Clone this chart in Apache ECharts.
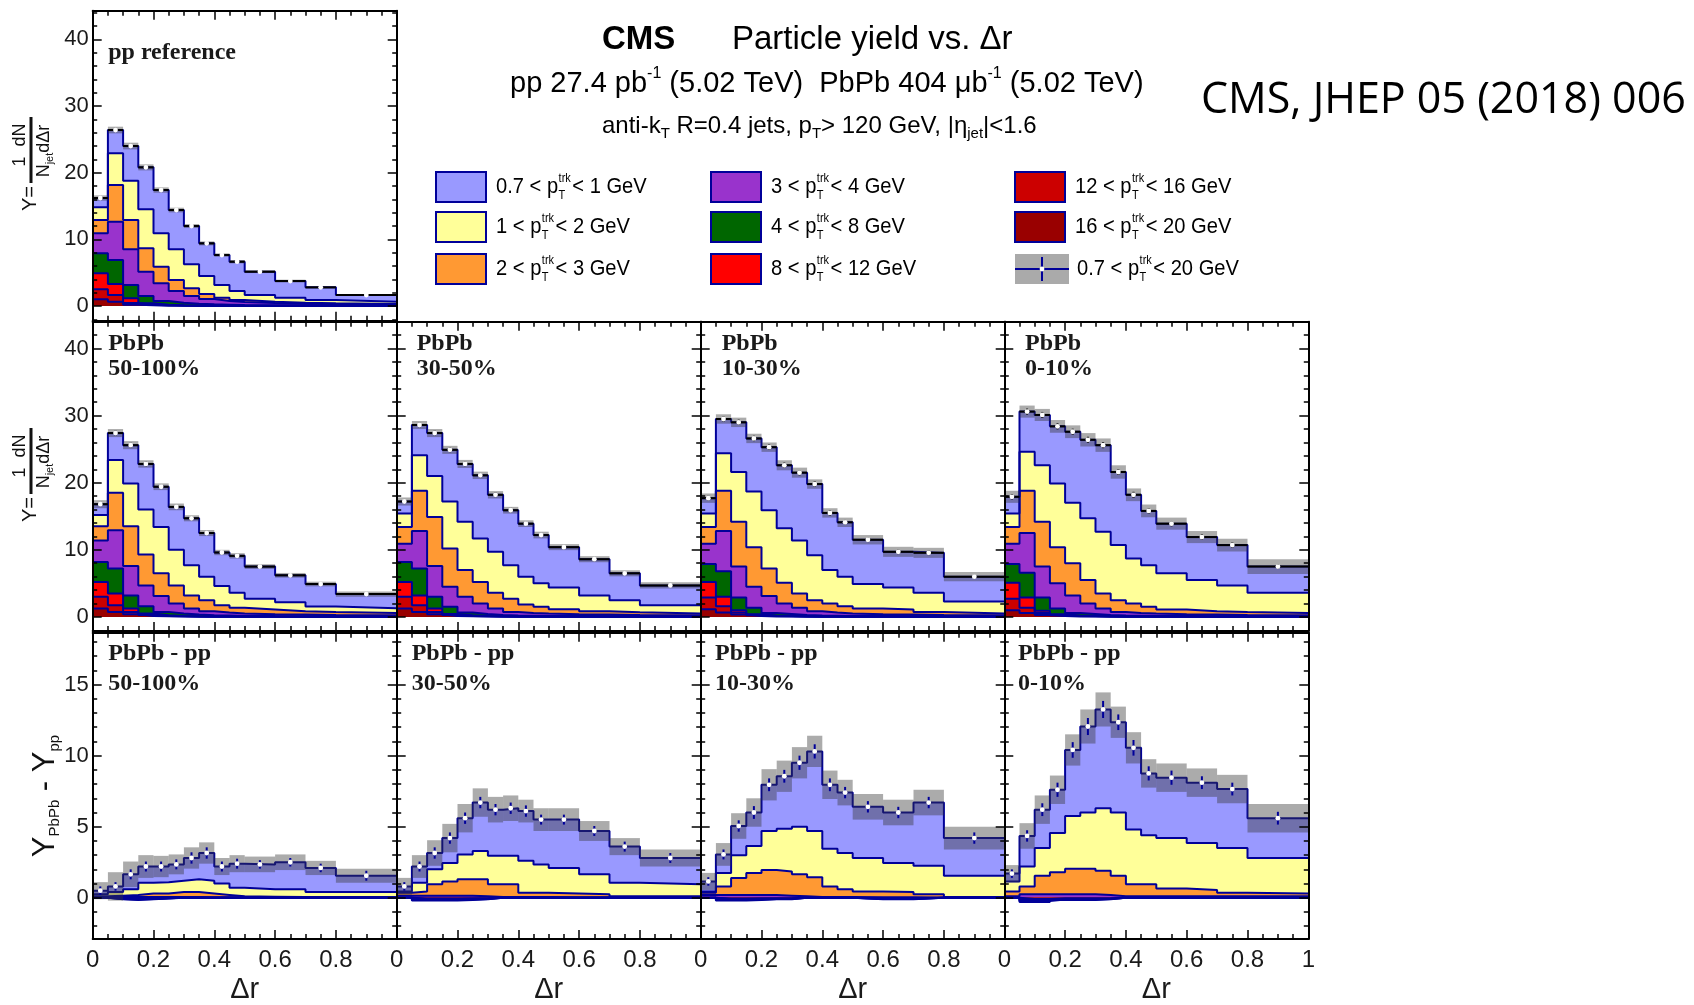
<!DOCTYPE html>
<html>
<head>
<meta charset="utf-8">
<title>Particle yield vs. Δr</title>
<script src="https://cdn.jsdelivr.net/npm/echarts@6.0.0/dist/echarts.min.js"></script>
<style>
  html, body { margin: 0; padding: 0; background: #fff; }
  #chart { width: 1694px; height: 1005px; }
</style>
</head>
<body>
<div id="chart"></div>
<script>
// Δr bin edges (14 bins)
const drEdges = [0, 0.05, 0.1, 0.15, 0.2, 0.25, 0.3, 0.35, 0.4, 0.45, 0.5, 0.6, 0.7, 0.8, 1.0];

// track pT classes, lowest first (legend + stack order top -> bottom)
const trkLow = ['0.7', '1', '2', '3', '4', '8', '12', '16'];
const trkHigh = ['1', '2', '3', '4', '8', '12', '16', '20'];
const trkColors = ['#9999ff', '#ffff99', '#ff9933', '#9933cc', '#006600', '#ff0000', '#cc0000', '#990000'];

// ---- pp reference ----
const pp_07 = [1.4, 3.5, 5.2, 6.3, 6.5, 5.9, 5.75, 4.9, 4.5, 4.4, 3.5, 2.5, 1.9, 1.0];
const pp_1  = [1.9, 4.75, 5.9, 5.85, 5.0, 4.6, 3.6, 2.7, 1.9, 1.35, 1.0, 0.75, 0.5, 0.35];
const pp_2  = [2.0, 5.5, 4.4, 3.5, 2.5, 1.65, 1.15, 0.75, 0.5, 0.3, 0.2, 0.15, 0.1, 0.05];
const pp_3  = [3.0, 5.75, 5.35, 3.65, 2.65, 1.75, 1.15, 0.8, 0.55, 0.45, 0.33, 0.25, 0.22, 0.19];
const pp_4  = [3.0, 3.6, 2.0, 1.1, 0.55, 0.38, 0.27, 0.18, 0.16, 0.11, 0.08, 0.07, 0.05, 0.03];
const pp_8  = [2.4, 1.65, 0.7, 0.2, 0.1, 0.06, 0.04, 0.03, 0.02, 0.02, 0.02, 0.01, 0.01, 0.01];
const pp_12 = [1.5, 1.0, 0.25, 0.1, 0.05, 0.03, 0.02, 0.02, 0.01, 0.01, 0.01, 0.01, 0.01, 0.01];
const pp_16 = [1.0, 0.65, 0.2, 0.1, 0.05, 0.03, 0.02, 0.02, 0.01, 0.01, 0.01, 0.01, 0.01, 0.01];
const pp_sys  = [0.4, 0.5, 0.5, 0.45, 0.4, 0.35, 0.3, 0.3, 0.25, 0.25, 0.2, 0.2, 0.15, 0.15];
const pp_stat = [0.15, 0.2, 0.2, 0.2, 0.15, 0.15, 0.15, 0.15, 0.1, 0.1, 0.1, 0.1, 0.1, 0.1];

// ---- PbPb 50-100% ----
const c50_07 = [1.6, 4.0, 5.7, 6.8, 6.0, 6.4, 7.0, 6.5, 5.0, 5.5, 4.8, 4.0, 3.35, 2.1];
const c50_1  = [1.7, 4.9, 6.4, 6.7, 6.9, 5.3, 4.5, 3.5, 2.85, 2.25, 1.6, 1.35, 0.8, 0.7];
const c50_2  = [2.1, 5.6, 5.9, 4.6, 3.4, 2.7, 1.95, 1.65, 1.1, 0.85, 0.7, 0.5, 0.45, 0.35];
const c50_3  = [3.2, 5.7, 4.4, 3.1, 2.35, 1.5, 0.9, 0.6, 0.45, 0.35, 0.28, 0.25, 0.22, 0.18];
const c50_4  = [3.0, 3.7, 1.95, 1.1, 0.5, 0.35, 0.25, 0.18, 0.15, 0.11, 0.09, 0.07, 0.05, 0.04];
const c50_8  = [2.2, 1.75, 0.5, 0.2, 0.1, 0.05, 0.04, 0.03, 0.02, 0.02, 0.01, 0.01, 0.01, 0.01];
const c50_12 = [1.75, 1.0, 0.35, 0.15, 0.07, 0.05, 0.03, 0.02, 0.01, 0.01, 0.01, 0.01, 0.01, 0.01];
const c50_16 = [1.25, 0.75, 0.4, 0.15, 0.08, 0.05, 0.03, 0.02, 0.02, 0.01, 0.01, 0.01, 0.01, 0.01];
const c50_sys  = [0.6, 0.6, 0.6, 0.55, 0.5, 0.5, 0.45, 0.45, 0.4, 0.4, 0.35, 0.35, 0.35, 0.4];
const c50_stat = [0.3, 0.35, 0.35, 0.35, 0.3, 0.3, 0.3, 0.3, 0.3, 0.3, 0.25, 0.25, 0.25, 0.2];

// ---- PbPb 30-50% ----
const c30_07 = [1.8, 4.5, 6.4, 7.7, 8.6, 9.4, 8.5, 8.2, 7.9, 7.2, 6.0, 5.4, 4.0, 2.95];
const c30_1  = [2.0, 5.3, 6.1, 7.0, 7.2, 6.5, 6.1, 5.0, 4.15, 3.5, 3.25, 2.35, 1.8, 1.25];
const c30_2  = [2.5, 6.0, 7.3, 5.7, 4.0, 3.2, 2.35, 1.95, 1.25, 1.0, 0.75, 0.5, 0.4, 0.25];
const c30_3  = [2.7, 5.6, 4.6, 3.0, 2.35, 1.55, 0.95, 0.53, 0.42, 0.36, 0.28, 0.25, 0.22, 0.18];
const c30_4  = [3.0, 4.0, 1.75, 1.05, 0.4, 0.3, 0.2, 0.15, 0.13, 0.1, 0.09, 0.07, 0.05, 0.04];
const c30_8  = [2.2, 1.45, 0.5, 0.15, 0.1, 0.05, 0.04, 0.03, 0.02, 0.02, 0.01, 0.01, 0.01, 0.01];
const c30_12 = [1.75, 1.0, 0.35, 0.15, 0.07, 0.05, 0.03, 0.02, 0.01, 0.01, 0.01, 0.01, 0.01, 0.01];
const c30_16 = [1.25, 0.75, 0.4, 0.15, 0.08, 0.05, 0.03, 0.02, 0.02, 0.01, 0.01, 0.01, 0.01, 0.01];
const c30_sys  = [0.6, 0.6, 0.6, 0.6, 0.6, 0.55, 0.55, 0.5, 0.5, 0.5, 0.45, 0.45, 0.45, 0.45];
const c30_stat = [0.3, 0.35, 0.35, 0.35, 0.35, 0.35, 0.35, 0.35, 0.3, 0.3, 0.3, 0.3, 0.25, 0.2];

// ---- PbPb 10-30% ----
const c10_07 = [2.3, 5.1, 7.4, 7.9, 9.4, 9.4, 10.1, 10.6, 8.5, 8.1, 6.6, 5.3, 5.95, 3.7];
const c10_1  = [2.0, 5.6, 7.4, 8.3, 8.7, 8.1, 7.9, 6.7, 5.0, 4.4, 3.65, 3.3, 2.85, 1.8];
const c10_2  = [2.5, 6.0, 6.7, 5.9, 4.1, 3.1, 2.15, 1.65, 1.35, 1.1, 0.85, 0.75, 0.45, 0.25];
const c10_3  = [3.0, 6.0, 4.6, 3.15, 2.5, 1.55, 1.05, 0.63, 0.47, 0.36, 0.28, 0.25, 0.22, 0.18];
const c10_4  = [2.7, 3.8, 1.9, 0.95, 0.38, 0.31, 0.2, 0.15, 0.13, 0.1, 0.09, 0.07, 0.05, 0.04];
const c10_8  = [2.3, 1.4, 0.35, 0.15, 0.09, 0.04, 0.04, 0.03, 0.02, 0.02, 0.01, 0.01, 0.01, 0.01];
const c10_12 = [1.75, 0.95, 0.3, 0.13, 0.06, 0.05, 0.03, 0.02, 0.01, 0.01, 0.01, 0.01, 0.01, 0.01];
const c10_16 = [1.15, 0.65, 0.35, 0.12, 0.07, 0.05, 0.03, 0.02, 0.02, 0.01, 0.01, 0.01, 0.01, 0.01];
const c10_sys  = [0.7, 0.7, 0.7, 0.7, 0.7, 0.75, 0.75, 0.7, 0.7, 0.7, 0.7, 0.75, 0.75, 0.7];
const c10_stat = [0.35, 0.4, 0.4, 0.4, 0.4, 0.4, 0.4, 0.4, 0.4, 0.35, 0.35, 0.35, 0.35, 0.3];

// ---- PbPb 0-10% ----
const c0_07 = [2.5, 6.0, 7.5, 8.5, 10.6, 11.7, 12.9, 10.9, 9.5, 8.1, 7.4, 6.4, 6.0, 3.9];
const c0_1  = [2.0, 5.8, 8.4, 9.5, 9.0, 9.2, 9.2, 8.2, 6.7, 6.2, 5.4, 4.65, 3.95, 3.0];
const c0_2  = [2.5, 6.3, 6.7, 5.4, 4.8, 3.5, 2.25, 1.75, 1.4, 1.0, 0.7, 0.5, 0.45, 0.35];
const c0_3  = [3.0, 5.9, 4.6, 3.75, 2.6, 1.55, 0.95, 0.53, 0.42, 0.36, 0.28, 0.25, 0.22, 0.18];
const c0_4  = [2.8, 3.7, 2.0, 0.85, 0.38, 0.31, 0.2, 0.15, 0.13, 0.1, 0.09, 0.07, 0.05, 0.04];
const c0_8  = [2.4, 1.55, 0.3, 0.15, 0.09, 0.04, 0.04, 0.03, 0.02, 0.02, 0.01, 0.01, 0.01, 0.01];
const c0_12 = [1.7, 0.75, 0.3, 0.13, 0.06, 0.05, 0.03, 0.02, 0.01, 0.01, 0.01, 0.01, 0.01, 0.01];
const c0_16 = [1.0, 0.6, 0.3, 0.12, 0.07, 0.05, 0.03, 0.02, 0.02, 0.01, 0.01, 0.01, 0.01, 0.01];
const c0_sys  = [0.9, 0.9, 0.9, 0.95, 0.95, 1.0, 1.0, 1.0, 0.95, 0.95, 0.9, 0.9, 0.95, 1.1];
const c0_stat = [0.4, 0.45, 0.45, 0.45, 0.45, 0.45, 0.45, 0.45, 0.45, 0.4, 0.4, 0.4, 0.4, 0.35];

// ---- PbPb - pp differences ----
const d50_07 = [0.25, 0.4, 1.05, 1.15, 1.1, 1.15, 1.5, 1.95, 1.2, 1.7, 1.75, 1.9, 1.7, 1.15];
const d50_1  = [0.15, 0.25, 0.4, 0.75, 0.8, 0.8, 0.9, 0.9, 0.8, 0.6, 0.52, 0.54, 0.35, 0.35];
const d50_2  = [0.05, 0.1, 0.15, 0.25, 0.25, 0.35, 0.35, 0.27, 0.17, 0.08, 0.06, 0.04, 0.03, 0.03];
const d50_3  = [0.05, 0.15, 0.2, 0.15, 0.1, 0.05, 0.05, 0.03, 0.03, 0.02, 0.02, 0.02, 0.02, 0.02];
const d50_4  = [0, -0.02, -0.03, -0.02, -0.01, 0, 0, 0, 0, 0, 0, 0, 0, 0];
const d50_8  = [0, -0.02, -0.04, -0.02, -0.01, 0, 0, 0, 0, 0, 0, 0, 0, 0];
const d50_12 = [0, -0.03, -0.04, -0.03, -0.01, 0, 0, 0, 0, 0, 0, 0, 0, 0];
const d50_16 = [0, -0.03, -0.04, -0.03, -0.02, 0, 0, 0, 0, 0, 0, 0, 0, 0];
const d50_sys  = [0.6, 1.0, 0.9, 0.8, 0.75, 0.7, 0.75, 0.75, 0.6, 0.6, 0.55, 0.55, 0.5, 0.5];
const d50_stat = [0.3, 0.3, 0.35, 0.35, 0.35, 0.35, 0.4, 0.4, 0.35, 0.35, 0.3, 0.3, 0.3, 0.35];

const d30_07 = [0.35, 1.15, 1.15, 1.75, 2.55, 3.4, 3.25, 3.35, 3.5, 3.15, 3.4, 3.05, 2.55, 1.85];
const d30_1  = [0.1, 0.6, 1.05, 1.3, 1.75, 2.0, 2.0, 2.0, 2.25, 2.0, 1.8, 1.4, 0.95, 0.85];
const d30_2  = [0.2, 0.3, 0.8, 1.0, 1.15, 1.2, 0.9, 0.9, 0.3, 0.3, 0.27, 0.22, 0.08, 0.08];
const d30_3  = [0.15, 0.35, 0.35, 0.35, 0.3, 0.2, 0.05, 0.05, 0.05, 0.05, 0.03, 0.03, 0.02, 0.02];
const d30_4  = [0, -0.05, -0.05, -0.05, -0.03, -0.02, 0, 0, 0, 0, 0, 0, 0, 0];
const d30_8  = [0, -0.05, -0.05, -0.05, -0.04, -0.03, 0, 0, 0, 0, 0, 0, 0, 0];
const d30_12 = [0, -0.05, -0.05, -0.05, -0.04, -0.02, 0, 0, 0, 0, 0, 0, 0, 0];
const d30_16 = [0, -0.05, -0.05, -0.05, -0.04, -0.03, 0, 0, 0, 0, 0, 0, 0, 0];
const d30_sys  = [0.6, 0.8, 0.9, 1.0, 1.0, 1.0, 0.9, 0.9, 0.8, 0.8, 0.8, 0.7, 0.6, 0.6];
const d30_stat = [0.3, 0.35, 0.4, 0.4, 0.4, 0.4, 0.4, 0.4, 0.4, 0.35, 0.35, 0.35, 0.35, 0.35];

const d10_07 = [0.7, 1.3, 2.05, 2.35, 3.25, 3.7, 4.5, 5.6, 4.5, 4.25, 3.6, 3.55, 4.45, 2.65];
const d10_1  = [0.1, 0.95, 1.6, 1.9, 2.75, 3.0, 3.35, 3.25, 2.65, 2.55, 2.35, 2.05, 2.0, 1.5];
const d10_2  = [0.15, 0.6, 1.2, 1.55, 1.75, 1.7, 1.55, 1.4, 0.75, 0.55, 0.42, 0.37, 0.23, 0.03];
const d10_3  = [0.2, 0.4, 0.4, 0.35, 0.3, 0.25, 0.1, 0.05, 0.05, 0.05, 0.13, 0.13, 0.02, 0.02];
const d10_4  = [0, -0.05, -0.05, -0.03, -0.02, -0.02, 0, 0, 0, 0, -0.02, -0.02, 0, 0];
const d10_8  = [0, -0.05, -0.05, -0.04, -0.02, -0.03, 0, 0, 0, 0, -0.02, -0.02, 0, 0];
const d10_12 = [0, -0.05, -0.05, -0.04, -0.03, -0.02, 0, 0, 0, 0, -0.03, -0.03, 0, 0];
const d10_16 = [0, -0.05, -0.05, -0.04, -0.03, -0.03, 0, 0, 0, 0, -0.03, -0.03, 0, 0];
const d10_sys  = [0.6, 0.8, 0.9, 1.0, 1.1, 1.1, 1.1, 1.1, 1.0, 0.9, 0.9, 0.9, 0.9, 0.8];
const d10_stat = [0.3, 0.35, 0.4, 0.45, 0.45, 0.45, 0.5, 0.5, 0.45, 0.4, 0.4, 0.4, 0.4, 0.4];

const d0_07 = [0.55, 2.15, 2.7, 3.05, 4.65, 6.05, 6.95, 6.35, 5.75, 4.35, 4.25, 4.25, 4.15, 2.8];
const d0_1  = [0.7, 1.4, 1.95, 2.75, 3.7, 3.95, 4.4, 4.45, 3.85, 3.45, 3.55, 3.3, 3.15, 2.5];
const d0_2  = [0.35, 0.55, 1.3, 1.55, 1.8, 1.8, 1.7, 1.45, 0.85, 0.85, 0.55, 0.45, 0.25, 0.2];
const d0_3  = [0.1, 0.55, 0.55, 0.4, 0.4, 0.4, 0.3, 0.1, 0.1, 0.1, 0.1, 0.1, 0.1, 0.1];
const d0_4  = [0, -0.07, -0.07, -0.03, -0.03, -0.03, -0.02, 0, 0, 0, 0, 0, 0, 0];
const d0_8  = [0, -0.07, -0.07, -0.04, -0.04, -0.04, -0.02, 0, 0, 0, 0, 0, 0, 0];
const d0_12 = [0, -0.08, -0.08, -0.04, -0.04, -0.04, -0.03, 0, 0, 0, 0, 0, 0, 0];
const d0_16 = [0, -0.08, -0.08, -0.04, -0.04, -0.04, -0.03, 0, 0, 0, 0, 0, 0, 0];
const d0_sys  = [0.6, 0.9, 1.0, 1.0, 1.1, 1.2, 1.2, 1.1, 1.1, 1.0, 1.0, 1.0, 1.0, 1.0];
const d0_stat = [0.3, 0.4, 0.45, 0.5, 0.55, 0.6, 0.6, 0.55, 0.55, 0.5, 0.5, 0.45, 0.45, 0.45];

// axis ticks
const yMajorYield = [0, 10, 20, 30, 40];
const yMinorYield = [-2, 2, 4, 6, 8, 12, 14, 16, 18, 22, 24, 26, 28, 32, 34, 36, 38, 42, 44];
const yMajorDiff = [0, 5, 10, 15];
const yMinorDiff = [-2, -1, 1, 2, 3, 4, 6, 7, 8, 9, 11, 12, 13, 14, 16, 17, 18];

// ---------------- layout ----------------
const colLeft = [92.7, 396.7, 700.7, 1004.3];
const colWidth = 304;
const rowTop = [10.7, 321.7, 632.7];
const rowHeight = [310, 309.3, 306.6];
const rowRange = [[-2.2, 44.3], [-2.1, 44.0], [-2.9, 18.65]];
const navy = '#000099';
const sans = 'Liberation Sans';
const serif = 'Liberation Serif';

const panels = [
  { row: 0, col: 0, text: ['pp reference'], comps: [pp_07, pp_1, pp_2, pp_3, pp_4, pp_8, pp_12, pp_16], sys: pp_sys, stat: pp_stat },
  { row: 1, col: 0, text: ['PbPb', '50-100%'], comps: [c50_07, c50_1, c50_2, c50_3, c50_4, c50_8, c50_12, c50_16], sys: c50_sys, stat: c50_stat },
  { row: 1, col: 1, text: ['PbPb', '30-50%'], comps: [c30_07, c30_1, c30_2, c30_3, c30_4, c30_8, c30_12, c30_16], sys: c30_sys, stat: c30_stat },
  { row: 1, col: 2, text: ['PbPb', '10-30%'], comps: [c10_07, c10_1, c10_2, c10_3, c10_4, c10_8, c10_12, c10_16], sys: c10_sys, stat: c10_stat },
  { row: 1, col: 3, text: ['PbPb', '0-10%'], comps: [c0_07, c0_1, c0_2, c0_3, c0_4, c0_8, c0_12, c0_16], sys: c0_sys, stat: c0_stat },
  { row: 2, col: 0, text: ['PbPb - pp', '50-100%'], comps: [d50_07, d50_1, d50_2, d50_3, d50_4, d50_8, d50_12, d50_16], sys: d50_sys, stat: d50_stat },
  { row: 2, col: 1, text: ['PbPb - pp', '30-50%'], comps: [d30_07, d30_1, d30_2, d30_3, d30_4, d30_8, d30_12, d30_16], sys: d30_sys, stat: d30_stat },
  { row: 2, col: 2, text: ['PbPb - pp', '10-30%'], comps: [d10_07, d10_1, d10_2, d10_3, d10_4, d10_8, d10_12, d10_16], sys: d10_sys, stat: d10_stat },
  { row: 2, col: 3, text: ['PbPb - pp', '0-10%'], comps: [d0_07, d0_1, d0_2, d0_3, d0_4, d0_8, d0_12, d0_16], sys: d0_sys, stat: d0_stat }
];

// panel label placement [dx, dy of each line]
const labelDx = [[15.5], [15.5, 20, 21, 20.7], [15.6, 15, 14.3, 13.7]];
const labelDy = [[42.5], [21.6, 46.6], [20.6, 50.6]];

const grids = [], xAxes = [], yAxes = [], series = [], graphics = [];
const tickLine = { color: '#000', width: 1.5 };

function xAxis(g, pos, p) {
  const showLab = pos === 'bottom' && p.row === 2;
  return {
    type: 'value', gridIndex: g, position: pos, min: 0, max: 1, interval: 0.2, z: 10,
    axisLine: { show: true, onZero: false, lineStyle: { color: '#000', width: 2 } },
    axisTick: { show: true, inside: true, length: 9, lineStyle: tickLine },
    minorTick: { show: true, splitNumber: 4, length: 5, lineStyle: tickLine },
    splitLine: { show: false }, minorSplitLine: { show: false },
    axisLabel: {
      show: showLab, margin: 9, fontFamily: sans, fontSize: 24, color: '#1a1a1a',
      formatter: v => (Math.abs(v - 1) < 1e-9 && p.col < 3) ? '' : String(Math.round(v * 10) / 10)
    },
    name: showLab ? 'Δr' : '', nameLocation: 'middle', nameGap: 36,
    nameTextStyle: { fontFamily: sans, fontSize: 29, color: '#1a1a1a' }
  };
}

function yAxis(g, pos, p, minor) {
  const range = rowRange[p.row];
  const majors = p.row === 2 ? yMajorDiff : yMajorYield;
  const minors = p.row === 2 ? yMinorDiff : yMinorYield;
  return {
    type: 'value', gridIndex: g, position: pos, min: range[0], max: range[1], z: 10,
    axisLine: { show: !minor, onZero: false, lineStyle: { color: '#000', width: 2 } },
    axisTick: { show: true, inside: true, length: minor ? 4.5 : 9, customValues: minor ? minors : majors, lineStyle: tickLine },
    splitLine: { show: false },
    axisLabel: {
      show: !minor && pos === 'left' && p.col === 0, customValues: majors,
      margin: 4, fontFamily: sans, fontSize: 22, color: '#1a1a1a'
    }
  };
}

function renderTotal(row) {
  return function (params, api) {
    const x0 = api.value(0), x1 = api.value(1), v = api.value(2), s = api.value(3), st = api.value(4);
    const xm = (x0 + x1) / 2;
    const a = api.coord([x0, v + s]), b = api.coord([x1, v - s]);
    const m = api.coord([xm, v]);
    const eu = api.coord([xm, v + st]), ed = api.coord([xm, v - st]);
    const kids = [{
      type: 'rect',
      shape: { x: a[0], y: a[1], width: b[0] - a[0], height: b[1] - a[1] },
      style: { fill: 'rgba(55,55,55,0.42)' }
    }];
    if (row < 2) {
      const l0 = api.coord([x0, v]), l1 = api.coord([x1, v]);
      kids.push({ type: 'line', shape: { x1: l0[0], y1: l0[1], x2: l1[0], y2: l1[1] }, style: { stroke: '#000', lineWidth: 2 } });
    }
    kids.push({ type: 'line', shape: { x1: eu[0], y1: eu[1], x2: ed[0], y2: ed[1] }, style: { stroke: row < 2 ? '#000' : navy, lineWidth: 2 } });
    kids.push({ type: 'circle', shape: { cx: m[0], cy: m[1], r: 2.4 }, style: { fill: '#fff' } });
    return { type: 'group', children: kids };
  };
}

panels.forEach((p, g) => {
  grids.push({ left: colLeft[p.col], top: rowTop[p.row], width: colWidth, height: rowHeight[p.row], show: false });
  xAxes.push(xAxis(g, 'bottom', p), xAxis(g, 'top', p));
  yAxes.push(yAxis(g, 'left', p, false), yAxis(g, 'left', p, true), yAxis(g, 'right', p, false), yAxis(g, 'right', p, true));

  // cumulative yields: class k and all harder classes stacked beneath it
  const cum = p.comps.map((_, k) => drEdges.slice(0, -1).map((__, i) =>
    p.comps.slice(k).reduce((s, c) => s + c[i], 0)));

  cum.forEach((vals, k) => {
    series.push({
      type: 'line', xAxisIndex: 2 * g, yAxisIndex: 4 * g, step: 'end', symbol: 'none', silent: true, z: 2,
      name: trkLow[k] + '-' + trkHigh[k] + ' GeV',
      data: drEdges.map((x, i) => [x, vals[Math.min(i, vals.length - 1)]]),
      lineStyle: { color: navy, width: 2 },
      areaStyle: { color: trkColors[k], opacity: 1 }
    });
  });

  series.push({
    type: 'custom', xAxisIndex: 2 * g, yAxisIndex: 4 * g, z: 5, silent: true,
    encode: { x: [0, 1], y: 2 },
    data: cum[0].map((v, i) => [drEdges[i], drEdges[i + 1], v, p.sys[i], p.stat[i]]),
    renderItem: renderTotal(p.row)
  });

  p.text.forEach((t, j) => {
    graphics.push({
      type: 'text', x: colLeft[p.col] + labelDx[p.row][p.col], y: rowTop[p.row] + labelDy[p.row][j], silent: true,
      style: { text: t, fontFamily: serif, fontWeight: 'bold', fontSize: 24, fill: '#1a1a1a', align: 'left', verticalAlign: 'middle' }
    });
  });
});

// ---------------- header ----------------
graphics.push(
  { type: 'text', x: 602, y: 40, silent: true,
    style: { text: 'CMS', fontFamily: sans, fontWeight: 'bold', fontSize: 33, fill: '#000', align: 'left', verticalAlign: 'middle' } },
  { type: 'text', x: 732, y: 40, silent: true,
    style: { text: 'Particle yield vs. Δr', fontFamily: sans, fontSize: 33, fill: '#000', align: 'left', verticalAlign: 'middle' } },
  { type: 'text', x: 510, y: 84, silent: true,
    style: {
      text: '{m|pp 27.4 pb}{sup|-1}{m| (5.02 TeV)  PbPb 404 μb}{sup|-1}{m| (5.02 TeV)}',
      align: 'left', verticalAlign: 'middle',
      rich: {
        m: { fontFamily: sans, fontSize: 29, lineHeight: 36, fill: '#000' },
        sup: { fontFamily: sans, fontSize: 16, lineHeight: 17, verticalAlign: 'top', fill: '#000' }
      }
    } },
  { type: 'text', x: 602, y: 126, silent: true,
    style: {
      text: '{m|anti-k}{sub|T}{m| R=0.4 jets, p}{sub|T}{m|> 120 GeV, |η}{sub|jet}{m||<1.6}',
      align: 'left', verticalAlign: 'middle',
      rich: {
        m: { fontFamily: sans, fontSize: 24, lineHeight: 31, fill: '#000' },
        sub: { fontFamily: sans, fontSize: 15, lineHeight: 15, verticalAlign: 'bottom', fill: '#000' }
      }
    } },
  { type: 'text', x: 1201, y: 101, silent: true,
    style: { text: 'CMS, JHEP 05 (2018) 006', fontFamily: 'Open Sans', fontSize: 43, fill: '#000', align: 'left', verticalAlign: 'middle' } }
);

// ---------------- legend ----------------
const legX = [436, 711, 1015];
const legY = [187, 227, 269];
const legBoxW = 50, legBoxH = 30;
const legScale = 0.915;   // ROOT text is slightly condensed
const measureCtx = document.createElement('canvas').getContext('2d');
function textWidth(str, size) {
  measureCtx.font = size + 'px "' + sans + '"';
  return measureCtx.measureText(str).width * legScale;
}
function legLabel(x, y, lo, hi) {
  const head = lo + ' < p';
  const wHead = textWidth(head, 22);
  const wIdx = Math.max(textWidth('T', 12), textWidth('trk', 12));
  const txt = (t, tx, ty, size) => ({
    type: 'text', x: tx, y: ty, scaleX: legScale, silent: true,
    style: { text: t, fontFamily: sans, fontSize: size, fill: '#000', align: 'left', verticalAlign: 'middle' }
  });
  return [
    txt(head, x, y, 22),
    txt('trk', x + wHead + 0.5, y - 8, 12),
    txt('T', x + wHead + 0.5, y + 9, 12),
    txt('< ' + hi + ' GeV', x + wHead + wIdx + 2, y, 22)
  ];
}
trkLow.forEach((lo, k) => {
  const cx = legX[Math.floor(k / 3)], cy = legY[k % 3];
  graphics.push({ type: 'rect', silent: true, shape: { x: cx, y: cy - legBoxH / 2, width: legBoxW, height: legBoxH },
    style: { fill: trkColors[k], stroke: navy, lineWidth: 2 } });
  graphics.push(...legLabel(cx + legBoxW + 10, cy, lo, trkHigh[k]));
});
(function () {
  const cx = legX[2], cy = legY[2];
  graphics.push(
    { type: 'rect', silent: true, shape: { x: cx, y: cy - legBoxH / 2, width: legBoxW + 4, height: legBoxH }, style: { fill: '#aaaaaa' } },
    { type: 'line', silent: true, shape: { x1: cx, y1: cy, x2: cx + legBoxW + 4, y2: cy }, style: { stroke: navy, lineWidth: 2 } },
    { type: 'line', silent: true, shape: { x1: cx + 27, y1: cy - 12, x2: cx + 27, y2: cy + 12 }, style: { stroke: navy, lineWidth: 2 } },
    { type: 'circle', silent: true, shape: { cx: cx + 27, cy: cy, r: 2.4 }, style: { fill: '#fff' } }
  );
  graphics.push(...legLabel(cx + legBoxW + 12, cy, '0.7', '20'));
})();

// ---------------- y axis titles ----------------
function yieldTitle(cy) {
  return {
    type: 'group', x: 31, y: cy, rotation: Math.PI / 2, silent: true,
    children: [
      { type: 'line', shape: { x1: -18, y1: 0, x2: 48, y2: 0 }, style: { stroke: '#111', lineWidth: 3 } },
      { type: 'text', x: 20, y: -11,
        style: { text: '1  dN', fontFamily: sans, fontSize: 18, fill: '#111', align: 'center', verticalAlign: 'middle' } },
      { type: 'text', x: 14, y: 13,
        style: {
          text: '{m|N}{s|jet}{m|dΔr}', align: 'center', verticalAlign: 'middle',
          rich: {
            m: { fontFamily: sans, fontSize: 18, lineHeight: 22, fill: '#111' },
            s: { fontFamily: sans, fontSize: 11, lineHeight: 12, verticalAlign: 'bottom', fill: '#111' }
          }
        } },
      { type: 'text', x: -33.5, y: -1,
        style: { text: 'Y=', fontFamily: sans, fontSize: 20, fill: '#111', align: 'center', verticalAlign: 'middle' } }
    ]
  };
}
graphics.push(yieldTitle(165), yieldTitle(476));
graphics.push({
  type: 'group', x: 45, y: 796, rotation: Math.PI / 2, silent: true,
  children: [{
    type: 'text',
    style: {
      text: '{Y|Y}{s|PbPb}{Y| - Y}{s|pp}', align: 'center', verticalAlign: 'middle',
      rich: {
        Y: { fontFamily: sans, fontSize: 31, lineHeight: 34, fill: '#111' },
        s: { fontFamily: sans, fontSize: 15, lineHeight: 16, verticalAlign: 'bottom', fill: '#111' }
      }
    }
  }]
});

const chart = echarts.init(document.getElementById('chart'));
chart.setOption({
  backgroundColor: '#ffffff',
  animation: false,
  grid: grids,
  xAxis: xAxes,
  yAxis: yAxes,
  series: series,
  graphic: graphics
});
</script>
</body>
</html>
